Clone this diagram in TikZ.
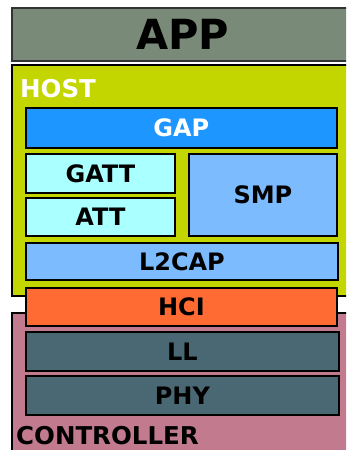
\documentclass[tikz,border=0pt]{standalone}
\usepackage{fontspec}
\setmainfont{DejaVu Sans}
\definecolor{appc}{HTML}{798B78}
\definecolor{hostc}{HTML}{C4D600}
\definecolor{gapc}{HTML}{1E96FF}
\definecolor{gattc}{HTML}{AAFFFF}
\definecolor{smpc}{HTML}{7DBBFF}
\definecolor{hcic}{HTML}{FF6B33}
\definecolor{llc}{HTML}{4A6874}
\definecolor{ctrlc}{HTML}{C27A8F}
\tikzset{
  blk/.style={draw=black, line width=1.8pt, inner sep=0pt, anchor=north west,
    font=\bfseries\fontsize{24}{24}\selectfont},
  lbl/.style={inner sep=0pt, anchor=base west, font=\bfseries\fontsize{24.5}{24}\selectfont}
}
\begin{document}
\begin{tikzpicture}[x=1pt,y=-1pt]
\useasboundingbox (0,0) rectangle (346,450);
\clip (0,0) rectangle (346,450);
\fill[white] (0,0) rectangle (346,450);
\node[blk, draw=black!80, fill=appc, minimum width=345pt, minimum height=53pt,
  font=\bfseries\fontsize{41.5}{41}\selectfont] (app) at (11,7) {\hspace*{-3pt}APP};
\node[blk, fill=hostc, minimum width=345pt, minimum height=231pt] (host) at (11,64) {};
\node[blk, fill=ctrlc, minimum width=345pt, minimum height=158pt] (ctrl) at (11,312) {};
\node[lbl, white] (hostlbl) at (20,97) {HOST};
\node[lbl] (ctrllbl) at (16,444) {CONTROLLER};
\node[blk, fill=gapc, text=white, minimum width=311pt, minimum height=40pt] (gap) at (25,107) {GAP};
\node[blk, fill=gattc, minimum width=149pt, minimum height=39pt] (gatt) at (25,153) {GATT};
\node[blk, fill=gattc, minimum width=149pt, minimum height=38pt] (att) at (25,197) {ATT};
\node[blk, fill=smpc, minimum width=148pt, minimum height=82pt] (smp) at (188,153) {SMP};
\node[blk, fill=smpc, minimum width=312pt, minimum height=37pt] (l2cap) at (25,242) {L2CAP};
\node[blk, fill=hcic, minimum width=311pt, minimum height=38pt] (hci) at (25,287) {HCI};
\node[blk, fill=llc, minimum width=313pt, minimum height=39pt] (ll) at (25,331) {LL};
\node[blk, fill=llc, minimum width=313pt, minimum height=39pt] (phy) at (25,375) {PHY};
\end{tikzpicture}
\end{document}
